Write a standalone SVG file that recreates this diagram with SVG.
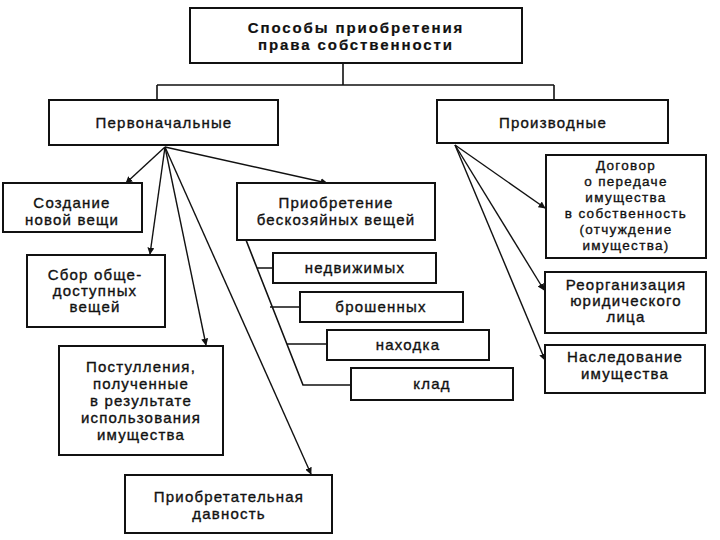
<svg xmlns="http://www.w3.org/2000/svg" width="720" height="540" viewBox="0 0 720 540">
<defs>
<style>
.box{fill:#fff;stroke:#111;stroke-width:2}
.t{font-family:"Liberation Sans",Arial,sans-serif;font-size:15px;fill:#111;stroke:#111;stroke-width:0.35;text-anchor:middle;letter-spacing:1.2px}
.b{font-weight:bold;letter-spacing:1.9px;stroke-width:0.2}
.s{font-size:13.5px;letter-spacing:1.3px}
.ln{fill:none;stroke:#111;stroke-width:1.6}
.ar{fill:none;stroke:#111;stroke-width:1.4;marker-end:url(#ah)}
</style>
<marker id="ah" viewBox="0 0 10 10" refX="9" refY="5" markerWidth="7" markerHeight="7" markerUnits="userSpaceOnUse" orient="auto">
<path d="M0,0 L10,5 L0,10 z" fill="#111"/>
</marker>
</defs>
<rect width="720" height="540" fill="#fff"/>

<g id="connectors">
<path class="ln" d="M343,63 V85 M157,85 H554 M157,85 V100 M554,85 V100"/>
<path class="ar" d="M165,147 L126,183"/>
<path class="ar" d="M165,147 L150,254"/>
<path class="ar" d="M165,147 L206,345"/>
<path class="ar" d="M165,147 L311,474"/>
<path class="ar" d="M165,147 L327,183"/>
<path class="ln" d="M246,240 L303,385 H351 M257,268 H273 M270,307 H300 M287,344 H327"/>
<path class="ar" d="M455,145 L545,208"/>
<path class="ar" d="M455,145 L544,290"/>
<path class="ar" d="M455,145 L545,360"/>
</g>

<g id="root">
<rect class="box" x="190" y="8" width="332" height="55"/>
<text class="t b" x="356" y="33">Способы приобретения</text>
<text class="t b" x="356" y="50">права собственности</text>
</g>
<g id="initial">
<rect class="box" x="49" y="100" width="229" height="45"/>
<text class="t" x="164" y="128">Первоначальные</text>
</g>
<g id="derivative">
<rect class="box" x="437" y="100" width="231" height="43"/>
<text class="t" x="553" y="128">Производные</text>
</g>
<g id="creation">
<rect class="box" x="3" y="183" width="139" height="49"/>
<text class="t" x="72" y="208">Создание</text>
<text class="t" x="72" y="225">новой вещи</text>
</g>
<g id="collection">
<rect class="box" x="27" y="255" width="138" height="72"/>
<text class="t" x="95" y="280">Сбор обще-</text>
<text class="t" x="95" y="296">доступных</text>
<text class="t" x="95" y="312">вещей</text>
</g>
<g id="income">
<rect class="box" x="59" y="346" width="164" height="109"/>
<text class="t" x="141" y="372">Постулления,</text>
<text class="t" x="141" y="389">полученные</text>
<text class="t" x="141" y="406">в результате</text>
<text class="t" x="141" y="423">использования</text>
<text class="t" x="141" y="440">имущества</text>
</g>
<g id="prescription">
<rect class="box" x="125" y="475" width="207" height="58"/>
<text class="t" x="229" y="502">Приобретательная</text>
<text class="t" x="229" y="519">давность</text>
</g>
<g id="ownerless">
<rect class="box" x="237" y="183" width="198" height="57"/>
<text class="t" x="336" y="208">Приобретение</text>
<text class="t" x="336" y="225">бескозяйных вещей</text>
</g>
<g id="immovable">
<rect class="box" x="273" y="253" width="163" height="30"/>
<text class="t" x="355" y="273">недвижимых</text>
</g>
<g id="abandoned">
<rect class="box" x="300" y="292" width="163" height="30"/>
<text class="t" x="381" y="312">брошенных</text>
</g>
<g id="find">
<rect class="box" x="327" y="330" width="162" height="30"/>
<text class="t" x="408" y="350">находка</text>
</g>
<g id="treasure">
<rect class="box" x="351" y="368" width="162" height="32"/>
<text class="t" x="432" y="389">клад</text>
</g>
<g id="contract">
<rect class="box" x="546" y="155" width="160" height="103"/>
<text class="t s" x="626" y="170">Договор</text>
<text class="t s" x="626" y="186">о передаче</text>
<text class="t s" x="626" y="202">имущества</text>
<text class="t s" x="626" y="218">в собственность</text>
<text class="t s" x="626" y="234">(отчуждение</text>
<text class="t s" x="626" y="250">имущества)</text>
</g>
<g id="reorg">
<rect class="box" x="545" y="272" width="161" height="61"/>
<text class="t" x="626" y="290">Реорганизация</text>
<text class="t" x="626" y="306">юридического</text>
<text class="t" x="626" y="322">лица</text>
</g>
<g id="inherit">
<rect class="box" x="545" y="345" width="160" height="48"/>
<text class="t" x="625" y="362">Наследование</text>
<text class="t" x="625" y="379">имущества</text>
</g>
</svg>
